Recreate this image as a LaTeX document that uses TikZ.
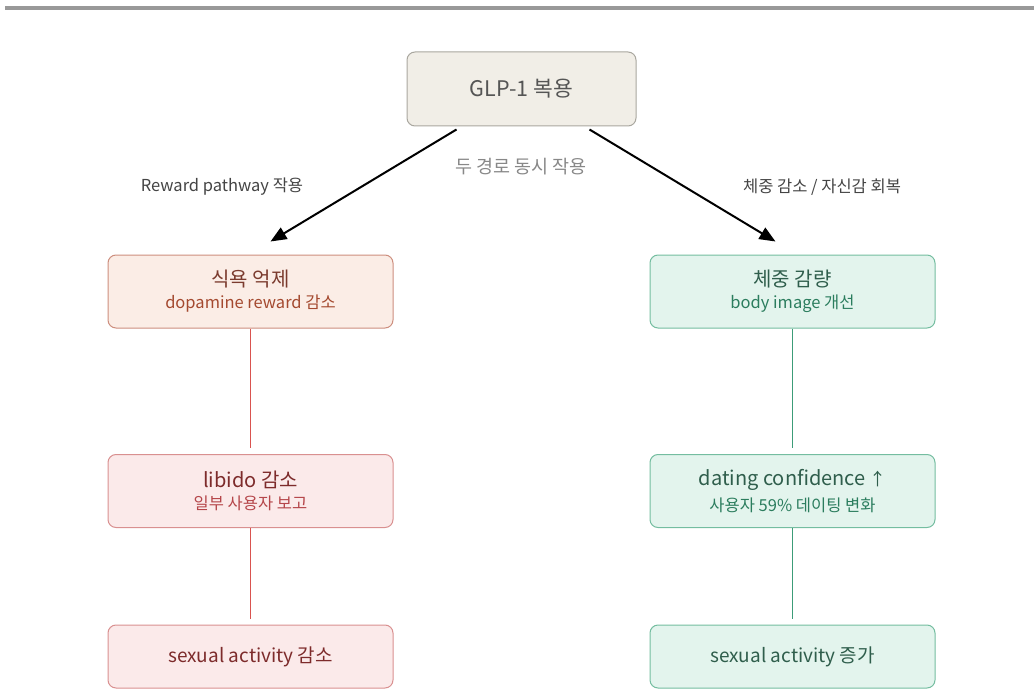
\documentclass[tikz,border=0pt]{standalone}
\usepackage{fontspec}
\setmainfont{Noto Sans CJK KR}
\usetikzlibrary{arrows.meta,calc}
\definecolor{topfill}{HTML}{F1EEE7}
\definecolor{topdraw}{HTML}{A9A79F}
\definecolor{toptext}{HTML}{555555}
\definecolor{lafill}{HTML}{FBEDE6}
\definecolor{ladraw}{HTML}{CD8E7E}
\definecolor{latitle}{HTML}{7B3B2E}
\definecolor{lasub}{HTML}{A4492F}
\definecolor{lbfill}{HTML}{FBEAEA}
\definecolor{lbdraw}{HTML}{D99090}
\definecolor{lbtitle}{HTML}{7D2B2B}
\definecolor{lbsub}{HTML}{B5464A}
\definecolor{rfill}{HTML}{E3F4ED}
\definecolor{rdraw}{HTML}{74BDA0}
\definecolor{rtitle}{HTML}{2F5E4C}
\definecolor{rsub}{HTML}{2B7D5E}
\definecolor{lline}{HTML}{D9534F}
\definecolor{rline}{HTML}{3C9C78}
\definecolor{lbl}{HTML}{444444}
\definecolor{lblmid}{HTML}{888888}
\newcommand{\ttlf}{\fontsize{20}{24}\selectfont}
\newcommand{\subf}{\fontsize{16.5}{19}\selectfont}
\tikzset{
  box/.style={rounded corners=8pt, line width=1pt, minimum width=285pt, minimum height=73pt, align=center, inner sep=0pt},
  topbox/.style={box, fill=topfill, draw=topdraw, minimum width=229pt, minimum height=74pt, text=toptext, font=\fontsize{21.5}{24}\selectfont},
  redA/.style={box, fill=lafill, draw=ladraw},
  redB/.style={box, fill=lbfill, draw=lbdraw},
  grn/.style={box, fill=rfill, draw=rdraw},
  edgelbl/.style={font=\fontsize{16.5}{19}\selectfont, text=lbl},
  mainarrow/.style={line width=2pt, -{Triangle[length=16pt,width=13pt]}},
  lconn/.style={line width=1pt, draw=lline, shorten >=6pt},
  rconn/.style={line width=1pt, draw=rline, shorten >=6pt}
}
\begin{document}
\begin{tikzpicture}[x=1pt,y=-1pt]
\useasboundingbox (0,0) rectangle (1034,690);
\fill[color=black!40] (5,6.5) rectangle (1034,10);
\node[topbox] (top) at (521.5,89) {GLP-1 복용};
\node[redA] (l1) at (250.5,291.5) {{\ttlf\color{latitle}식욕 억제}\\[6pt]{\subf\color{lasub}dopamine reward 감소}};
\node[grn] (r1) at (792.5,291.5) {{\ttlf\color{rtitle}체중 감량}\\[6pt]{\subf\color{rsub}body image 개선}};
\node[redB] (l2) at (250.5,491) {{\ttlf\color{lbtitle}libido 감소}\\[6pt]{\subf\color{lbsub}일부 사용자 보고}};
\node[grn] (r2) at (792.5,491) {{\ttlf\color{rtitle}dating confidence\,{\fontsize{17}{20}\selectfont↑}}\\[6pt]{\subf\color{rsub}사용자 59\% 데이팅 변화}};
\node[redB, minimum height=63pt, text=lbtitle, font=\fontsize{19}{22}\selectfont] (l3) at (250.5,656.5) {sexual activity 감소};
\node[grn, minimum height=63pt, text=rtitle, font=\fontsize{19}{22}\selectfont] (r3) at (792.5,656.5) {sexual activity 증가};
\draw[mainarrow] ($(top.south)+(-65,3)$) -- ($(l1.north)+(20,-13)$);
\draw[mainarrow] ($(top.south)+(68,3)$) -- ($(r1.north)+(-17,-13)$);
\node[edgelbl] (lblL) at (222,187) {Reward pathway 작용};
\node[edgelbl, text=lblmid, font=\fontsize{18.5}{21}\selectfont] (lblM) at (521,167) {두 경로 동시 작용};
\node[edgelbl] (lblR) at (822,187) {체중 감소 / 자신감 회복};
\draw[lconn] (l1) -- (l2);
\draw[lconn] (l2) -- (l3);
\draw[rconn] (r1) -- (r2);
\draw[rconn] (r2) -- (r3);
\end{tikzpicture}
\end{document}
